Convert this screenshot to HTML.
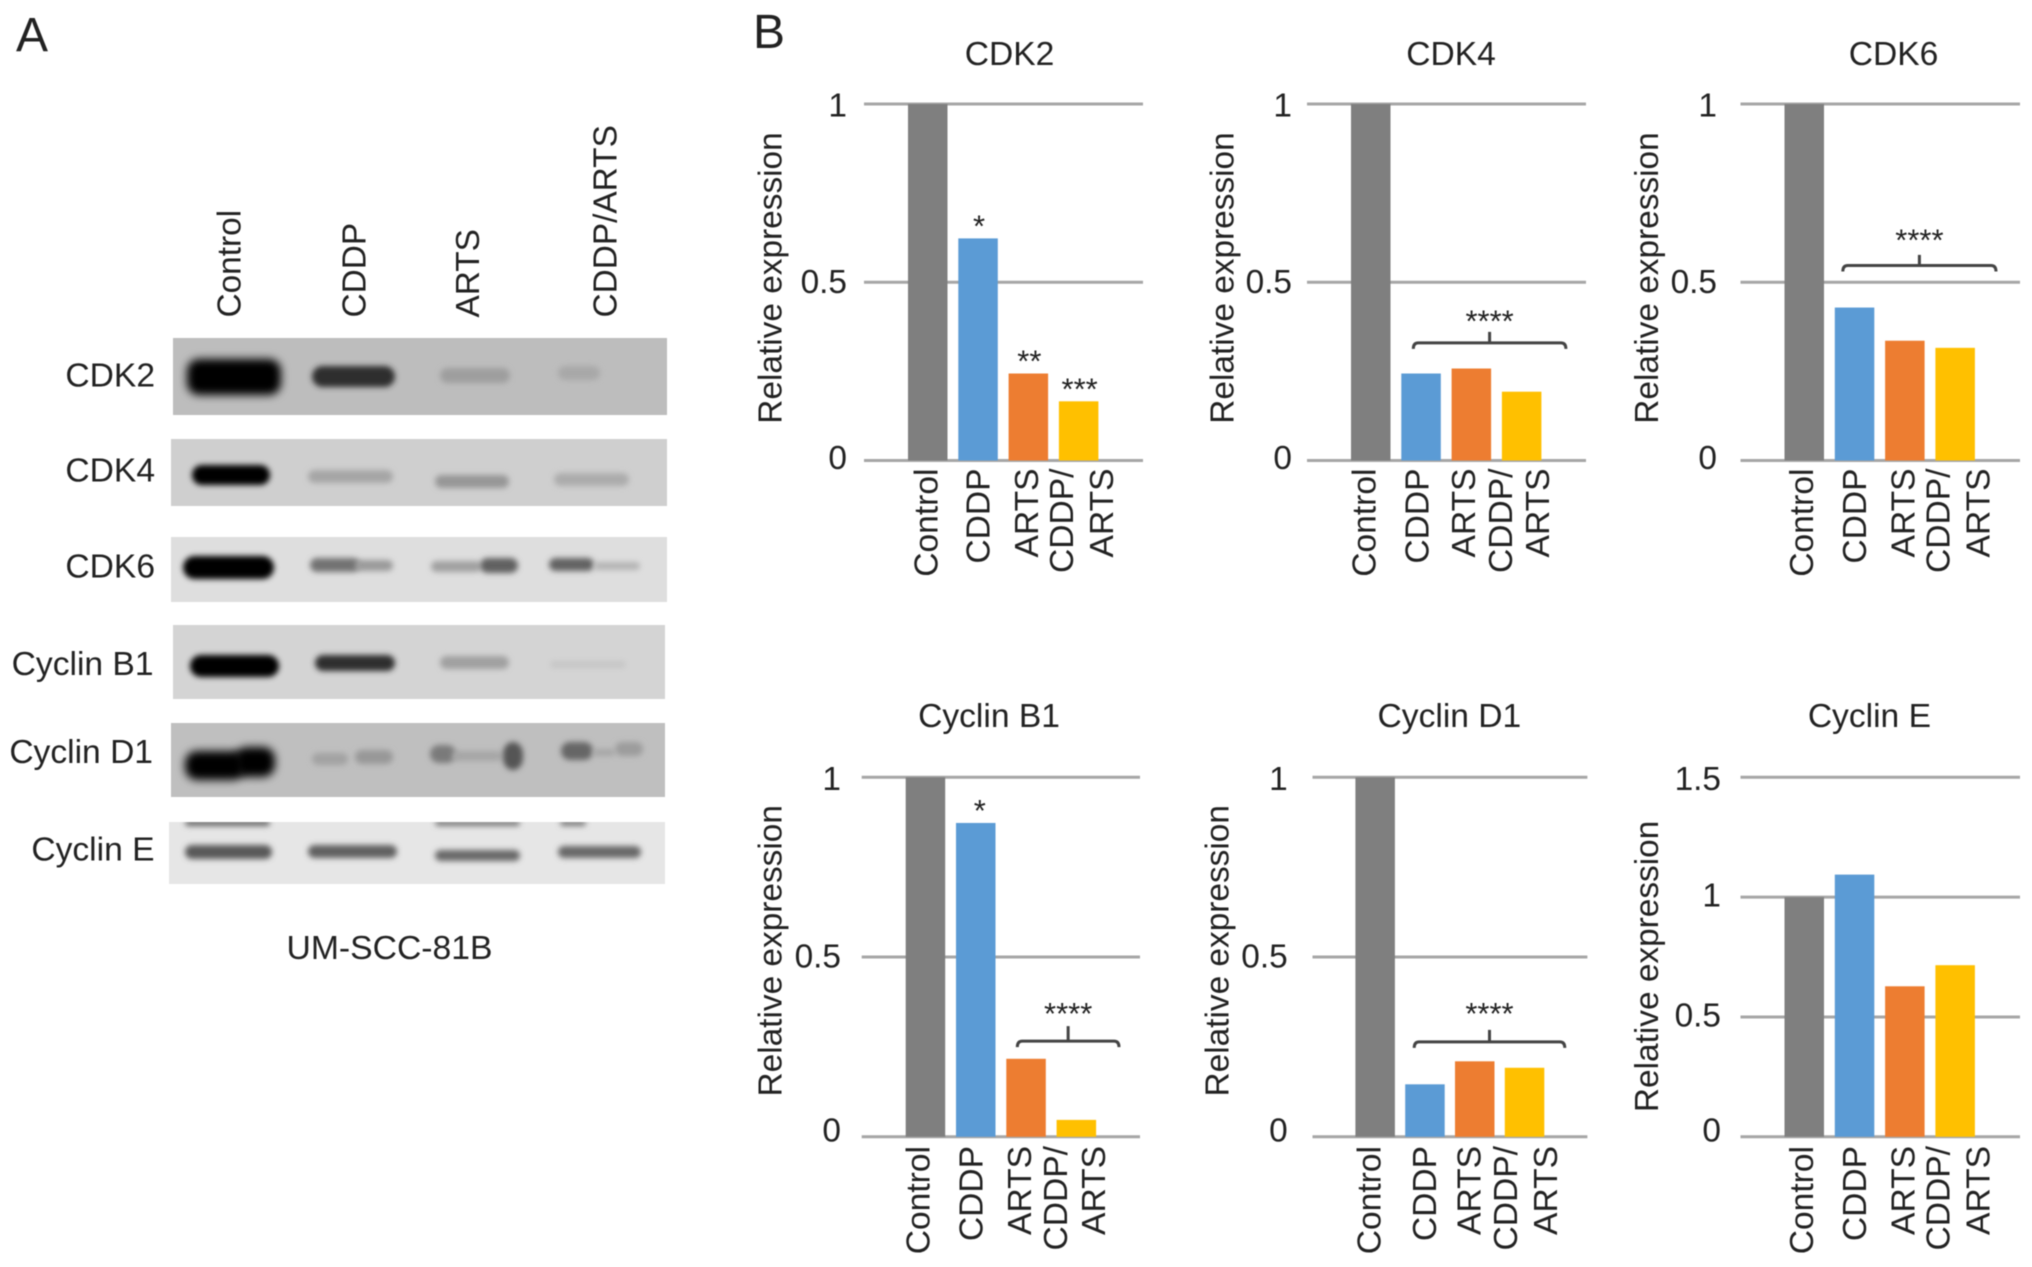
<!DOCTYPE html>
<html lang="en">
<head>
<meta charset="utf-8">
<title>UM-SCC-81B western blots and relative expression</title>
<style>
html,body{margin:0;padding:0;background:#fff;width:2032px;height:1267px;overflow:hidden}
svg{display:block;filter:blur(.6px)}
text{font-family:"Liberation Sans",Arial,sans-serif;fill:#222}
</style>
</head>
<body>
<svg id="figure" xmlns="http://www.w3.org/2000/svg" width="2032" height="1267" viewBox="0 0 2032 1267">
  <defs>
    <filter id="b1" x="-40%" y="-200%" width="180%" height="500%"><feGaussianBlur stdDeviation="3"/></filter>
    <filter id="b2" x="-40%" y="-200%" width="180%" height="500%"><feGaussianBlur stdDeviation="4.5"/></filter>
  </defs>
  <rect width="2032" height="1267" fill="#fff"/>
  <text x="16" y="51" font-size="48">A</text>
  <text x="753" y="48" font-size="48">B</text>

  <g id="blots"></g>

  <g font-size="33.4">
    <text transform="translate(240.5,317.5) rotate(-90)">Control</text>
    <text transform="translate(365.5,317.5) rotate(-90)">CDDP</text>
    <text transform="translate(479,317.5) rotate(-90)">ARTS</text>
    <text transform="translate(616.5,317.5) rotate(-90)">CDDP/ARTS</text>
  </g>
  <g font-size="33.6" text-anchor="end">
    <text x="155" y="386.5">CDK2</text>
    <text x="155" y="481.5">CDK4</text>
    <text x="155" y="577.5">CDK6</text>
    <text x="153.5" y="675">Cyclin B1</text>
    <text x="153" y="763">Cyclin D1</text>
    <text x="154.5" y="860.5">Cyclin E</text>
  </g>
  <text x="389.5" y="959" font-size="33.7" text-anchor="middle">UM-SCC-81B</text>

  <g id="charts"></g>
</svg>

<script>
// ---- chart data ----
const categories = ['Control', 'CDDP', 'ARTS', 'CDDP/ ARTS'];
const cdk2Values = [1, 0.623, 0.244, 0.166];
const cdk4Values = [1, 0.244, 0.258, 0.193];
const cdk6Values = [1, 0.429, 0.336, 0.316];
const cyclinB1Values = [1, 0.873, 0.217, 0.047];
const cyclinD1Values = [1, 0.146, 0.21, 0.192];
const cyclinEValues = [1, 1.094, 0.628, 0.716];
const ticksUnit = [0, 0.5, 1];
const ticksExtended = [0, 0.5, 1, 1.5];
const cdk2Stars = ['', '*', '**', '***'];
const cdk4Stars = ['', '', '', ''];
const cyclinB1Stars = ['', '*', '', ''];
const bracketLabel = '****';
const cdk4BracketLevel = 0.33;
const cdk6BracketLevel = 0.547;
const cyclinB1BracketLevel = 0.266;
const cyclinD1BracketLevel = 0.264;

// ---- layout (no data values) ----
const barColors = ['#7f7f7f', '#5b9bd5', '#ed7d31', '#ffc000'];
const BAR_W = 39.5;
const plots = [
  {key:'cdk2', title:'CDK2', values:cdk2Values, ticks:ticksUnit, max:1, stars:cdk2Stars, step:50.3, starDx:1,
   gridL:864, gridR:1143, top:104, base:460.5, bar0:908, titleX:1009.5, titleY:65, tickX:847, yTitleX:770, yTitleY:278, labelY:468.5, zeroOff:8.5, midOff:10.5,
   shifts:[-2,0,-2,-17,23]},
  {key:'cdk4', title:'CDK4', values:cdk4Values, ticks:ticksUnit, max:1, stars:cdk4Stars, step:50.3, starDx:1,
   gridL:1307, gridR:1586, top:104, base:460.5, bar0:1351, titleX:1451, titleY:65, tickX:1292, yTitleX:1222, yTitleY:278, labelY:468.5, zeroOff:8.5, midOff:10.5,
   shifts:[-7,-4,-8,-21,16], bracket:{level:cdk4BracketLevel, from:1, to:3, dl:12, dr:64, stem:11, label:29}},
  {key:'cdk6', title:'CDK6', values:cdk6Values, ticks:ticksUnit, max:1, stars:cdk4Stars, step:50.3, starDx:1,
   gridL:1740.5, gridR:2020, top:104, base:460.5, bar0:1784.5, titleX:1893.5, titleY:65, tickX:1717, yTitleX:1646.5, yTitleY:278, labelY:468.5, zeroOff:8.5, midOff:10.5,
   shifts:[-3,0,-2,-17,23], bracket:{level:cdk6BracketLevel, from:1, to:3, dl:8, dr:60.6, stem:10.6, label:32.5}},
  {key:'cyclin-b1', title:'Cyclin B1', values:cyclinB1Values, ticks:ticksUnit, max:1, stars:cyclinB1Stars, step:50.3, starDx:4,
   gridL:861.7, gridR:1140, top:777.3, base:1136.8, bar0:905.7, titleX:989, titleY:727, tickX:841, yTitleX:770, yTitleY:950.8, labelY:1146, zeroOff:4.5, midOff:10.5,
   shifts:[-7.7,-4.7,-6.7,-21,17], bracket:{level:cyclinB1BracketLevel, from:2, to:3, dl:11, dr:62.4, stem:15, label:34.5}},
  {key:'cyclin-d1', title:'Cyclin D1', values:cyclinD1Values, ticks:ticksUnit, max:1, stars:cdk4Stars, step:49.8, starDx:1,
   gridL:1312.5, gridR:1587.4, top:777.3, base:1136.8, bar0:1355.4, titleX:1449.4, titleY:727, tickX:1287.7, yTitleX:1216.9, yTitleY:950.8, labelY:1146, zeroOff:4.5, midOff:10.5,
   shifts:[-6,-0.5,-6,-19,21], bracket:{level:cyclinD1BracketLevel, from:1, to:3, dl:9, dr:60, stem:12, label:35.5}},
  {key:'cyclin-e', title:'Cyclin E', values:cyclinEValues, ticks:ticksExtended, max:1.5, stars:cdk4Stars, step:50.3, starDx:1,
   gridL:1740.5, gridR:2020, top:777.3, base:1136.8, bar0:1784.5, titleX:1869.4, titleY:727, tickX:1721, yTitleX:1646.5, yTitleY:966.4, labelY:1146, zeroOff:4.5, midOff:9.5,
   shifts:[-3,0,-2,-17,23]}
];

const NS = 'http://www.w3.org/2000/svg';
function make(tag, attrs, parent) {
  const node = document.createElementNS(NS, tag);
  for (const k in attrs) node.setAttribute(k, attrs[k]);
  parent.appendChild(node);
  return node;
}

// ---- bar charts ----
const chartsRoot = document.getElementById('charts');
plots.forEach(function (p) {
  const yScale = function (v) { return p.base - (v / p.max) * (p.base - p.top); };
  const barLeft = function (i) { return p.bar0 + i * p.step; };
  const barCenter = function (i) { return barLeft(i) + BAR_W / 2; };

  const g = make('g', {}, chartsRoot);
  
  

  const title = make('text', {x:p.titleX, y:p.titleY, 'font-size':33.6, 'text-anchor':'middle'}, g);
  title.textContent = p.title;
  
  

  const yTitle = make('text', {transform:'translate(' + (p.yTitleX + 11.5) + ',' + p.yTitleY + ') rotate(-90)', 'font-size':33.4, 'text-anchor':'middle'}, g);
  yTitle.textContent = 'Relative expression';
  
  

  p.ticks.forEach(function (t) {
    const line = make('line', {x1:p.gridL, x2:p.gridR, y1:yScale(t), y2:yScale(t), stroke:'#a6a6a6', 'stroke-width':3}, g);
    
    
    const offset = t === 0 ? p.zeroOff : (t === p.max ? 12.5 : p.midOff);
    const lab = make('text', {x:p.tickX, y:yScale(t) + offset, 'font-size':33.4, 'text-anchor':'end', fill:'#333'}, g);
    lab.textContent = String(t);
    
    
  });

  p.values.forEach(function (v, i) {
    const bar = make('rect', {x:barLeft(i), y:yScale(v), width:BAR_W, height:p.base - yScale(v), fill:barColors[i]}, g);
    
    

    if (p.stars[i]) {
      const s = make('text', {x:barCenter(i) + p.starDx, y:yScale(v) - 2, 'font-size':31, 'text-anchor':'middle', fill:'#222'}, g);
      s.textContent = p.stars[i];
      
      
    }

    const parts = categories[i].split(' ');
    parts.forEach(function (part, j) {
      const sh = parts.length > 1 ? p.shifts[3 + j] : p.shifts[i];
      const lx = barCenter(i) + sh + 11.5;
      const label = make('text', {transform:'translate(' + lx + ',' + p.labelY + ') rotate(-90)', 'font-size':33.6, 'text-anchor':'end'}, g);
      label.textContent = part;
      
      
    });
  });

  if (p.bracket) {
    const b = p.bracket;
    const y = yScale(b.level);
    const xl = barLeft(b.from) + b.dl;
    const xr = barLeft(b.to) + b.dr;
    const xm = (xl + xr) / 2;
    const d = 'M' + xl + ' ' + (y + 6) + 'Q' + xl + ' ' + y + ' ' + (xl + 5) + ' ' + y +
              'L' + (xr - 5) + ' ' + y + 'Q' + xr + ' ' + y + ' ' + xr + ' ' + (y + 6) +
              'M' + xm + ' ' + y + 'L' + xm + ' ' + (y - b.stem);
    const path = make('path', {d:d, fill:'none', stroke:'#444', 'stroke-width':3}, g);
    
    
    const st = make('text', {x:xm, y:y - b.label + 17.5, 'font-size':31, 'text-anchor':'middle'}, g);
    st.textContent = bracketLabel;
    
    
  }
});

// ---- western blot imitation (image content, not chart data) ----
const blotStrips = [
  {name:'cdk2', x:173, y:338, w:494, h:77, bg:'#bdbdbd', bands:[
    [187,359,94,36,'#000',2],[312,366,83,21,'#2e2e2e',1],[440,368,70,15,'#9e9e9e',1],[558,366,42,14,'#a8a8a8',1]]},
  {name:'cdk4', x:171, y:439, w:496, h:67, bg:'#cfcfcf', bands:[
    [192,465,78,20,'#000',1],[308,470,85,13,'#a6a6a6',1],[435,475,74,13,'#969696',1],[554,473,75,13,'#acacac',1]]},
  {name:'cdk6', x:171, y:537, w:496, h:65, bg:'#dedede', bands:[
    [183,556,91,23,'#000',1],[310,558,50,14,'#727272',1],[355,560,38,11,'#9a9a9a',1],[431,561,50,11,'#a0a0a0',1],[480,558,38,15,'#606060',1],[549,558,45,13,'#626262',1],[594,562,46,8,'#b4b4b4',1]]},
  {name:'cyclin-b1', x:173, y:625, w:492, h:74, bg:'#d4d4d4', bands:[
    [190,655,89,22,'#000',1],[315,655,80,16,'#2e2e2e',1],[440,656,69,13,'#a0a0a0',1],[550,661,76,7,'#c6c6c6',1]]},
  {name:'cyclin-d1', x:171, y:723, w:494, h:74, bg:'#bfbfbf', bands:[
    [185,751,60,29,'#000',2],[235,747,40,30,'#000',2],[312,753,36,12,'#a2a2a2',1],[355,750,38,14,'#989898',1],[430,745,26,18,'#7a7a7a',1],[452,751,50,10,'#a6a6a6',1],[503,742,20,28,'#555',1],[561,742,32,18,'#666',1],[593,749,22,7,'#a6a6a6',1],[615,742,28,14,'#9c9c9c',1]]},
  {name:'cyclin-e', x:169, y:822, w:496, h:62, bg:'#e6e6e6', bands:[
    [185,820,85,6,'#666',1],[435,820,85,6,'#7a7a7a',1],[560,820,26,6,'#7a7a7a',1],[185,845,87,14,'#585858',1],[308,845,89,13,'#606060',1],[435,850,85,11,'#686868',1],[558,846,83,12,'#686868',1]]}
];
const blotRoot = document.getElementById('blots');
const defs = document.querySelector('defs');
blotStrips.forEach(function (strip) {
  const clip = make('clipPath', {id:'clip-' + strip.name}, defs);
  make('rect', {x:strip.x, y:strip.y, width:strip.w, height:strip.h}, clip);

  const g = make('g', {'clip-path':'url(#clip-' + strip.name + ')'}, blotRoot);
  
  

  const bg = make('rect', {x:strip.x, y:strip.y, width:strip.w, height:strip.h, fill:strip.bg}, g);
  
  

  strip.bands.forEach(function (b) {
    const band = make('rect', {x:b[0], y:b[1], width:b[2], height:b[3], rx:Math.min(b[3] / 2, 12), fill:b[4], filter:b[5] > 1 ? 'url(#b2)' : 'url(#b1)'}, g);
    
    
  });
});
</script>
</body>
</html>
